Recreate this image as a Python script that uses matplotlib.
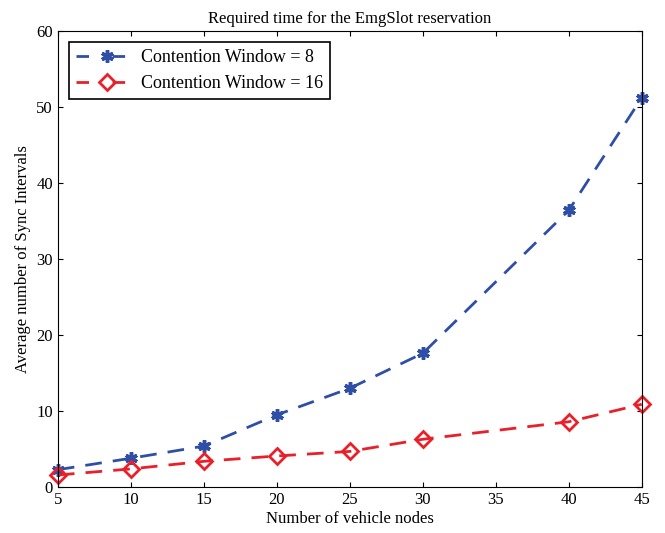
import matplotlib.pyplot as plt

plt.rcParams['font.family'] = ['Liberation Serif', 'DejaVu Serif']

# numero de nodos y tiempo promedio (intervalos de sync)
nodes = [5, 10, 15, 20, 25, 30, 40, 45]
cw8 = [2.3, 3.8, 5.4, 9.5, 13.0, 17.6, 36.4, 51.2]
cw16 = [1.6, 2.4, 3.4, 4.1, 4.7, 6.3, 8.6, 10.9]

fig = plt.figure(figsize=(6.65, 5.33), dpi=100)
ax = fig.add_axes([0.087, 0.086, 0.878, 0.856])

ax.plot(nodes, cw8, color='#2F4FA6', linestyle='--', dashes=(6, 4), linewidth=2,
        marker=(6, 2, 0), markersize=9, markeredgewidth=2.5, clip_on=False,
        label='Contention Window = 8')
ax.plot(nodes, cw16, color='#E8202A', linestyle='--', dashes=(6, 4), linewidth=2,
        marker='D', markersize=8, markerfacecolor='none', markeredgewidth=2,
        clip_on=False, label='Contention Window = 16')

ax.set_xlim(5, 45)
ax.set_ylim(0, 60)
ax.set_xticks(range(5, 50, 5))
ax.set_yticks(range(0, 70, 10))
ax.tick_params(direction='in', top=True, right=True, labelsize=12)

ax.set_title('Required time for the EmgSlot reservation', fontsize=12)
ax.set_xlabel('Number of vehicle nodes', fontsize=12, labelpad=2)
ax.set_ylabel('Average number of Sync Intervals', fontsize=12)

leg = ax.legend(loc='upper left', fontsize=13, fancybox=False, edgecolor='black',
                framealpha=1, handlelength=3.4, handletextpad=0.2,
                borderaxespad=0.6)
leg.get_frame().set_linewidth(1.2)
# guiones cortos en la leyenda: - marcador -
for h in leg.legend_handles:
    h.set_dashes((4.5, 8.5))

fig.savefig('out.png')
